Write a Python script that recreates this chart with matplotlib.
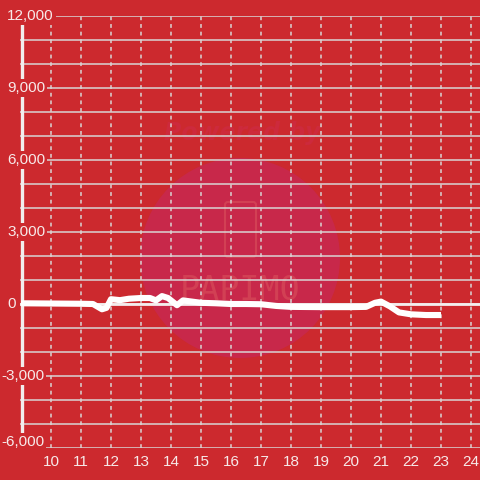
import matplotlib
matplotlib.use('Agg')

import matplotlib.pyplot as plt
from matplotlib.patches import Circle, FancyBboxPatch

# hours of the day and the value of the series
hours = [9.0, 10.0, 11.0, 11.4, 11.7, 11.85, 12.0, 12.3, 12.6, 13.0, 13.3, 13.5,
		13.7, 13.9, 14.2, 14.4, 14.7, 15.0, 15.5, 16.0, 16.5, 17.0, 17.5, 18.0,
		19.0, 20.0, 20.5, 20.8, 21.0, 21.3, 21.6, 22.0, 22.5, 23.0]
values = [30, 20, 10, 0, -220, -160, 200, 160, 220, 250, 250, 150,
		330, 250, -50, 150, 100, 50, 30, 0, 0, -10, -80, -120,
		-130, -130, -120, 50, 100, -100, -350, -430, -460, -460]

x_ticks = list(range(10, 25))
y_ticks = list(range(-6000, 12001, 3000))
y_grid = list(range(-6000, 12001, 1000))

bg = '#cc292e'
grid_col = '#d9d4d4'
label_col = '#f7e9e9'

fig = plt.figure(figsize=(4.8, 4.8), dpi=100)
fig.patch.set_facecolor(bg)
# axes box: px 20..480 horizontally, px 16..448 vertically
ax = fig.add_axes([20 / 480, 32 / 480, 460 / 480, 432 / 480])
ax.set_facecolor('none')
ax.set_zorder(1)
ax.set_xlim(10 - 31 / 30, 24 + 9 / 30)
ax.set_ylim(-6000, 12000)
ax.axis('off')

# watermark (drawn in figure pixels, below the axes)
pix = fig.transFigure
def px(x, y):
	return (x / 480, 1 - y / 480)

circ = Circle(px(240, 258), 100 / 480, transform=pix, facecolor='#c8284a',
		edgecolor='none', zorder=0)
fig.patches.append(circ)
fig.text(*px(242, 133), 'Powered by', transform=pix, ha='center', va='center',
		fontsize=17, fontweight='bold', style='italic', color='#cd2a3c', zorder=0.5)
fig.text(*px(240, 290), 'PAPIMO', transform=pix, ha='center', va='center',
		fontsize=24, family='DejaVu Sans Mono', color='#d24054', zorder=0.5)
phone = FancyBboxPatch(px(225, 257), 31 / 480, 55 / 480, transform=pix,
		boxstyle='round,pad=0,rounding_size=0.006', facecolor='none',
		edgecolor='#d24054', lw=1.5, zorder=0.5)
fig.patches.append(phone)

# grid
for v in y_grid:
	ax.axhline(v, color=grid_col, lw=1.1, zorder=2)
for h in x_ticks:
	ax.axvline(h, color=grid_col, lw=1.1, ls=(0, (2.5, 2.5)), zorder=2)
ax.axhline(0, color='#f4eeee', lw=2, zorder=2.5)
ax.axvline(10 - 29 / 30, ymin=0, ymax=(11700 + 6000) / 18000, color='#f2eded', lw=2.4, zorder=3)

# series
ax.plot(hours, values, color='white', lw=4.4, solid_joinstyle='round',
		solid_capstyle='butt', zorder=4)

# tick labels
font = 'Liberation Sans'
for v in y_ticks:
	lab = f'{v:,}'
	yy = v + 250 if v == -6000 else v
	if v >= 0:
		xpos, ha = 10 - 44 / 30, 'left'
	else:
		xpos, ha = 10 - 7 / 30, 'right'
	ax.text(xpos, yy, lab, ha=ha, va='center', fontsize=11, family=font,
			color=label_col, clip_on=False, zorder=5,
			bbox=dict(facecolor=bg, edgecolor='none', pad=1.5))
for h in x_ticks:
	ax.text(h, -6600, str(h), ha='center', va='center', fontsize=11,
			family=font, color=label_col, clip_on=False, zorder=5)

fig.savefig('out.png', dpi=100, facecolor=bg)
